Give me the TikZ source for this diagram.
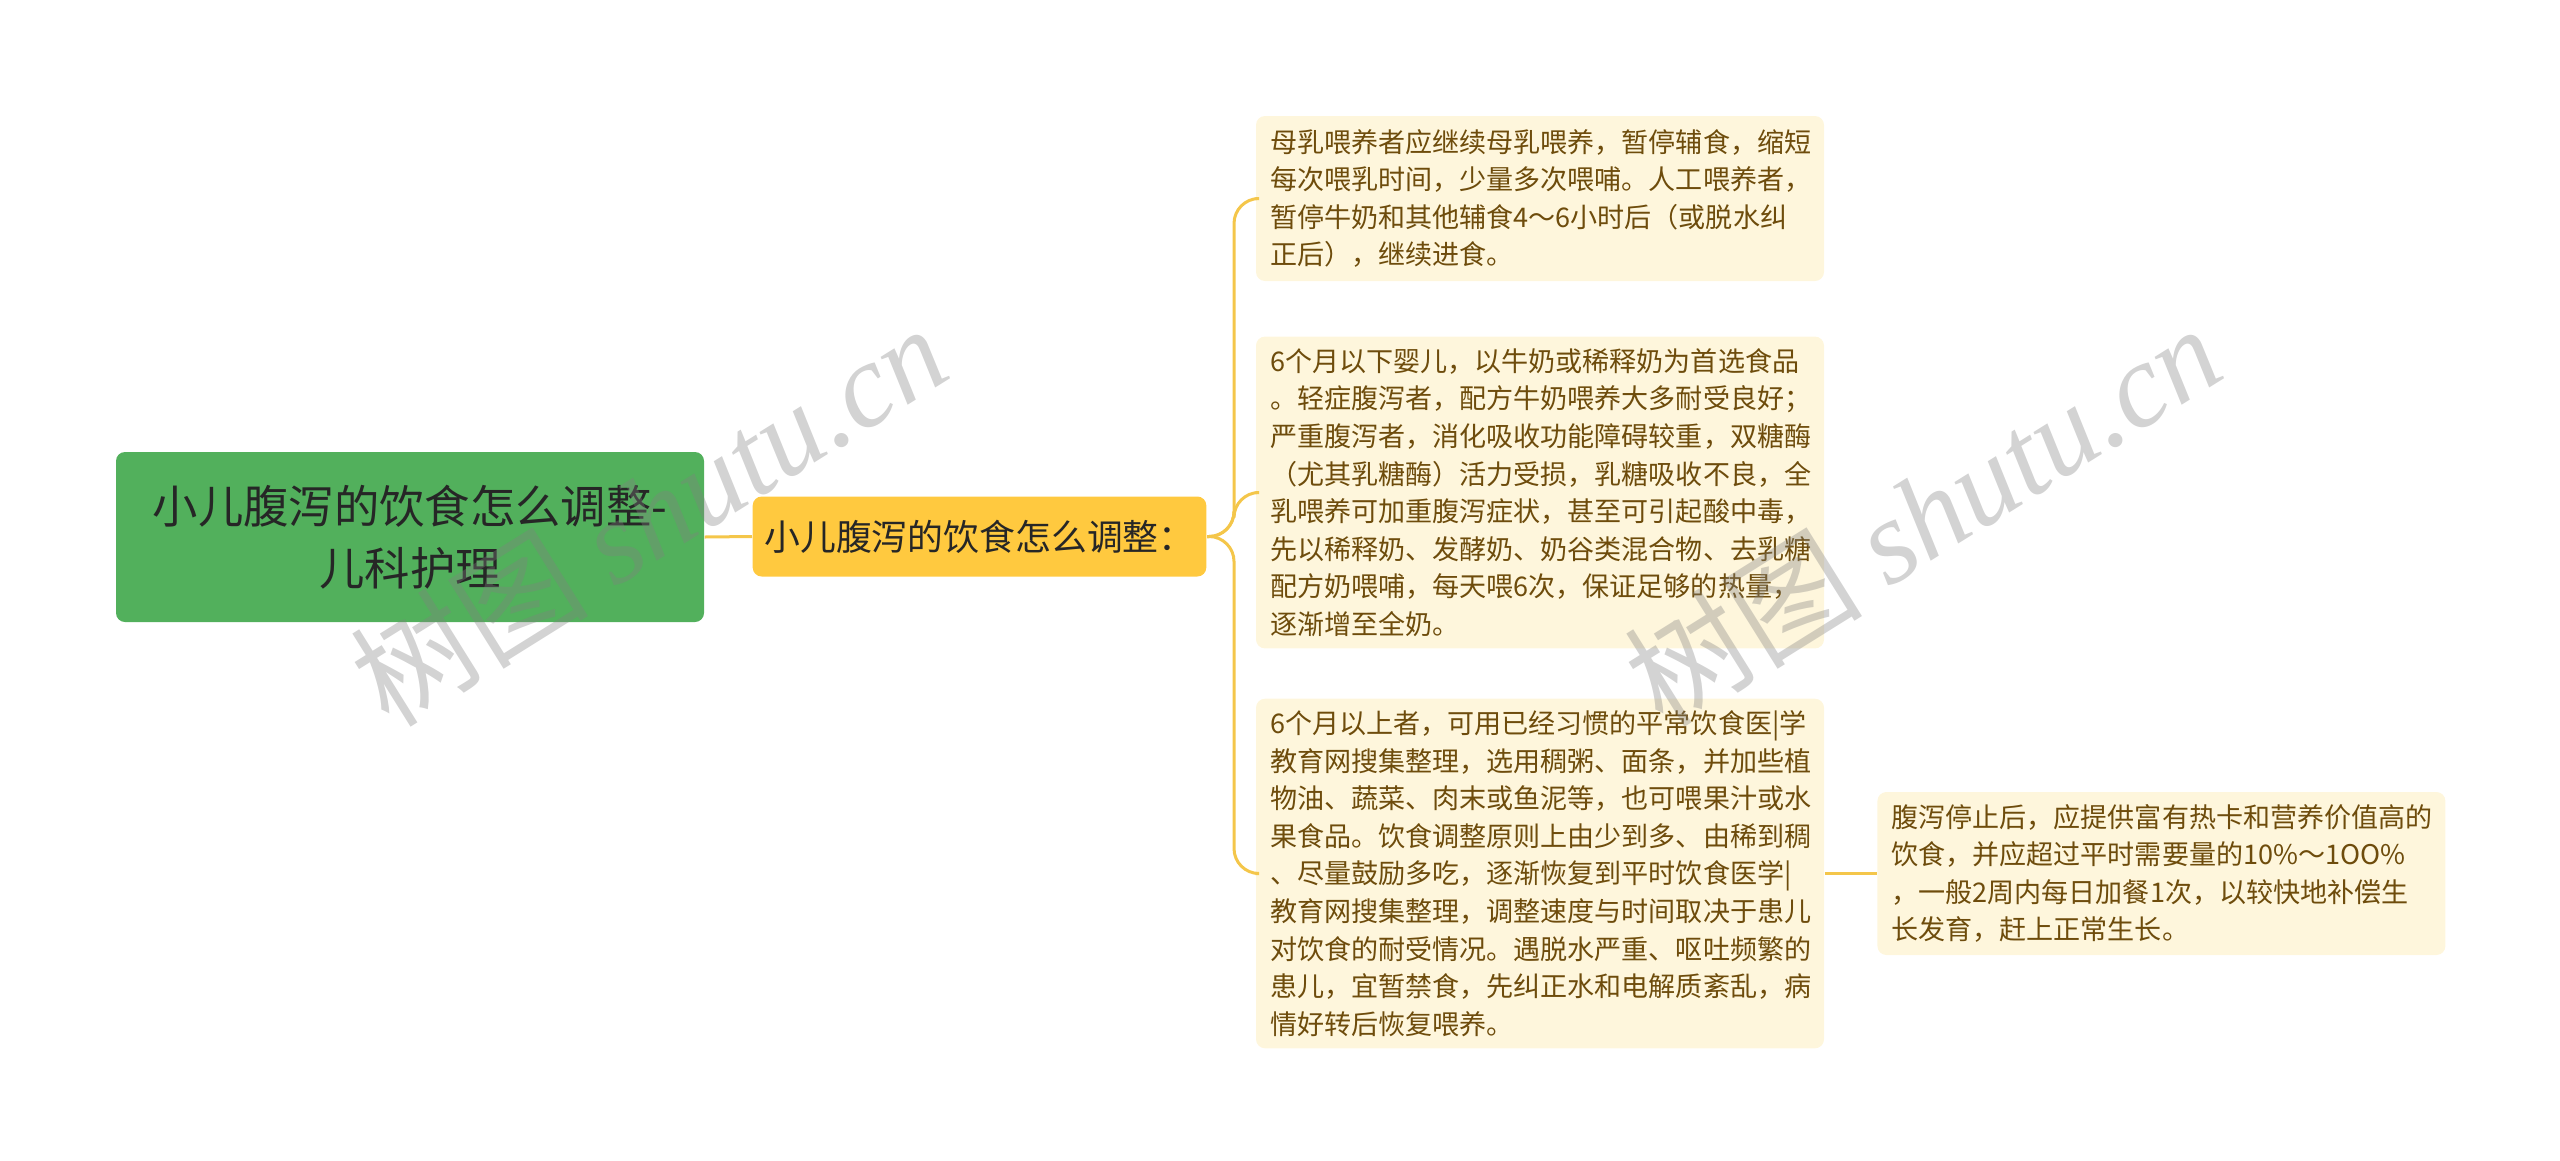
\documentclass[tikz,border=0pt]{standalone}
\usepackage{fontspec}
\setmainfont{Noto Sans CJK SC}
\newfontfamily\wmfont{Liberation Serif}
\usepackage{xcolor}
\usetikzlibrary{positioning, calc}
\definecolor{rootgreen}{HTML}{52B05C}
\definecolor{topicyellow}{HTML}{FFC93F}
\definecolor{leafcream}{HTML}{FEF6DC}
\definecolor{leaftext}{HTML}{6E4C0C}
\definecolor{linkyellow}{HTML}{F4C64A}
\tikzset{
  rootbox/.style={rectangle, rounded corners=0.09cm, minimum width=5.88cm, minimum height=1.70cm, align=center, fill=rootgreen, text=black!85, font=\fontsize{12.9}{17.6}\selectfont},
  topicbox/.style={rectangle, rounded corners=0.09cm, minimum width=4.51cm, minimum height=0.80cm, align=center, fill=topicyellow, text=black!85, font=\fontsize{10.2}{12}\selectfont},
  leafbox/.style={rectangle, rounded corners=0.09cm, text width=5.40cm, inner xsep=0.14cm, align=left, fill=leafcream, text=leaftext, font=\fontsize{7.7}{10.7}\selectfont},
  branch/.style={draw=linkyellow, line width=0.03cm, rounded corners=0.25cm},
  watermark/.style={rotate=32, text=gray, opacity=0.35, font=\fontsize{34}{34}\selectfont}
}

\begin{document}
\begin{tikzpicture}
        \useasboundingbox (0,0) rectangle (25.6,-11.6);
        % Nodes
        \node (root) [rootbox] at (4.10,-5.37) {小儿腹泻的饮食怎么调整-\\儿科护理};
        \node (topic) [topicbox] at (9.795,-5.365) {小儿腹泻的饮食怎么调整：};

        \node (leaf_mother) [leafbox, minimum height=1.65cm] at (15.40,-1.985) {母乳喂养者应继续母乳喂养，暂停辅食，缩短\\每次喂乳时间，少量多次喂哺。人工喂养者，\\暂停牛奶和其他辅食4～6小时后（或脱水纠\\正后），继续进食。};
        \node (leaf_under6) [leafbox, minimum height=3.05cm] at (15.40,-4.925) {6个月以下婴儿，以牛奶或稀释奶为首选食品\\。轻症腹泻者，配方牛奶喂养大多耐受良好；\\严重腹泻者，消化吸收功能障碍较重，双糖酶\\（尤其乳糖酶）活力受损，乳糖吸收不良，全\\乳喂养可加重腹泻症状，甚至可引起酸中毒，\\先以稀释奶、发酵奶、奶谷类混合物、去乳糖\\配方奶喂哺，每天喂6次，保证足够的热量，\\逐渐增至全奶。};
        \node (leaf_over6) [leafbox, minimum height=3.39cm] at (15.40,-8.735) {6个月以上者，可用已经习惯的平常饮食医|学\\教育网搜集整理，选用稠粥、面条，并加些植\\物油、蔬菜、肉末或鱼泥等，也可喂果汁或水\\果食品。饮食调整原则上由少到多、由稀到稠\\、尽量鼓励多吃，逐渐恢复到平时饮食医学|\\教育网搜集整理，调整速度与时间取决于患儿\\对饮食的耐受情况。遇脱水严重、呕吐频繁的\\患儿，宜暂禁食，先纠正水和电解质紊乱，病\\情好转后恢复喂养。};
        \node (leaf_after) [leafbox, minimum height=1.63cm, right=0.52cm of leaf_over6] {腹泻停止后，应提供富有热卡和营养价值高的\\饮食，并应超过平时需要量的10\%～1OO\%\\，一般2周内每日加餐1次，以较快地补偿生\\长发育，赶上正常生长。};

        % Paths
        \coordinate (fork) at ($(topic.east)+(0.27,0)$);
        \draw [branch] (root.east) -- (topic.west);
        \draw [branch] (topic.east) -- (fork) |- (leaf_mother.west);
        \draw [branch] (topic.east) -- (fork) |- (leaf_under6.west);
        \draw [branch] (topic.east) -- (fork) |- (leaf_over6.west);
        \draw [branch] (leaf_over6.east) -- (leaf_after.west);

        % Watermarks
        \node (wm_left) [watermark] at (6.48,-5.14) {树图 {\wmfont\itshape shutu.cn}};
        \node (wm_right) [watermark] at (19.22,-5.14) {树图 {\wmfont\itshape shutu.cn}};
\end{tikzpicture}
\end{document}
